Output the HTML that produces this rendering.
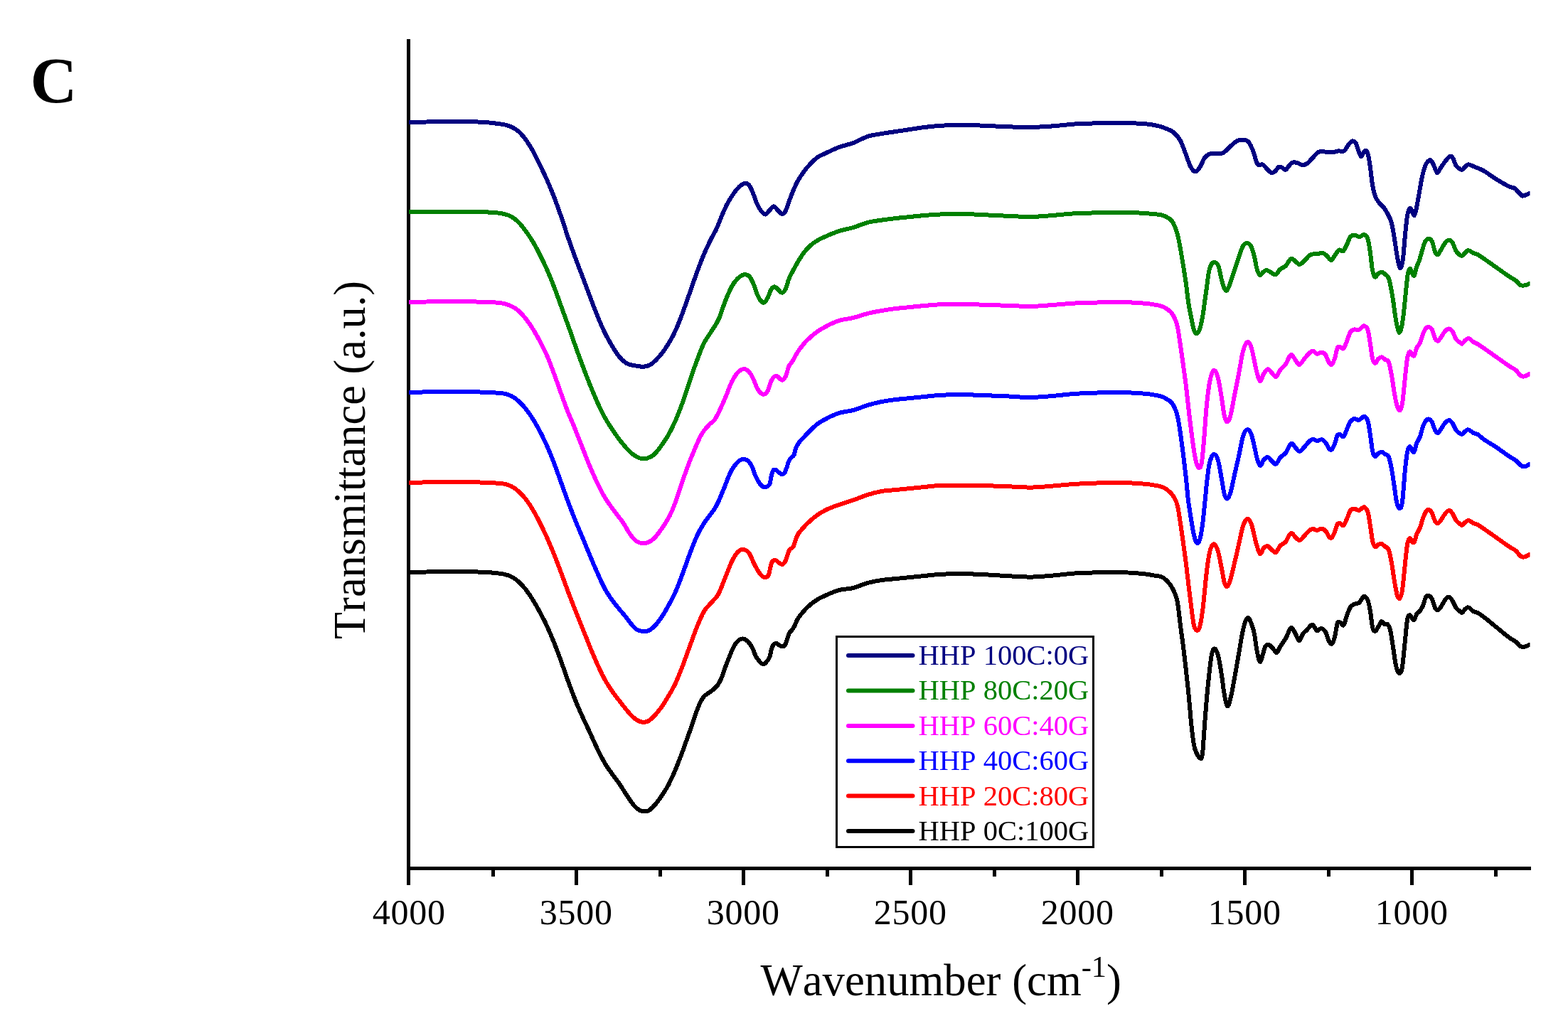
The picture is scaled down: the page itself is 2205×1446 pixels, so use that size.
<!DOCTYPE html>
<html lang="en">
<head>
<meta charset="utf-8">
<title>Transmittance (a.u.) vs Wavenumber (cm-1)</title>
<style>
html,body{margin:0;padding:0;background:#fff;}
body{width:2205px;height:1446px;overflow:hidden;}
svg{display:block;}
text{font-family:"Liberation Serif","Times New Roman",Times,serif;font-kerning:none;}
.crv{fill:none;stroke-linejoin:round;stroke-linecap:butt;shape-rendering:crispEdges;}
</style>
</head>
<body>
<svg role="img" aria-label="Transmittance (a.u.) versus Wavenumber (cm-1)" width="2205" height="1446" viewBox="0 0 2205 1446">
<rect x="0" y="0" width="2205" height="1446" fill="#ffffff"/>
<g fill="#000000" shape-rendering="crispEdges">
<rect x="572" y="55" width="5" height="1169"/>
<rect x="572" y="1219" width="1581" height="5"/>
<rect x="572" y="1219" width="5" height="26"/>
<rect x="691" y="1219" width="5" height="14"/>
<rect x="808" y="1219" width="5" height="26"/>
<rect x="926" y="1219" width="5" height="14"/>
<rect x="1043" y="1219" width="5" height="26"/>
<rect x="1161" y="1219" width="5" height="14"/>
<rect x="1278" y="1219" width="5" height="26"/>
<rect x="1396" y="1219" width="5" height="14"/>
<rect x="1513" y="1219" width="5" height="26"/>
<rect x="1631" y="1219" width="5" height="14"/>
<rect x="1748" y="1219" width="5" height="26"/>
<rect x="1866" y="1219" width="5" height="14"/>
<rect x="1983" y="1219" width="5" height="26"/>
<rect x="2101" y="1219" width="5" height="14"/>
</g>
<defs><clipPath id="plotclip"><rect x="575" y="57" width="1576.5" height="1162"/></clipPath></defs>
<g class="crv" stroke-width="6.00" clip-path="url(#plotclip)">
<path stroke="#000000" d="M571.0,805.0C572.3,805.0 573.7,805.0 575.0,805.0C583.3,805.0 591.7,804.6 600.0,804.5C606.7,804.4 613.3,804.3 620.0,804.3C626.7,804.3 633.3,804.3 640.0,804.3C646.7,804.3 653.3,804.3 660.0,804.4C665.0,804.4 670.0,804.4 675.0,804.6C679.3,804.7 683.7,804.9 688.0,805.2C692.0,805.5 696.0,805.9 700.0,806.4C703.3,806.8 706.7,807.0 710.0,807.9C713.3,808.8 716.7,809.8 720.0,811.6C723.3,813.4 726.6,815.7 729.9,818.7C733.2,821.8 736.6,825.6 739.9,829.9C743.2,834.3 746.6,839.4 749.9,844.8C753.2,850.2 756.6,856.2 759.9,862.4C762.9,868.0 765.9,873.7 768.9,880.1C772.5,887.8 776.2,896.5 779.8,905.6C783.1,914.0 786.5,923.0 789.8,932.2C793.1,941.3 796.5,951.5 799.8,960.6C803.1,969.7 806.5,978.6 809.8,986.8C813.1,995.0 816.5,1002.4 819.8,1009.7C822.2,1014.9 824.5,1019.6 826.9,1024.7C831.2,1033.9 835.6,1044.1 839.9,1053.0C843.2,1059.8 846.6,1066.7 849.9,1072.4C853.2,1078.2 856.6,1082.7 859.9,1087.4C863.2,1092.2 866.6,1096.0 869.9,1100.8C873.2,1105.6 876.5,1111.1 879.8,1116.1C883.1,1121.1 886.5,1126.9 889.8,1130.8C893.1,1134.8 896.5,1138.2 899.8,1139.9C901.8,1140.9 903.8,1141.4 905.8,1141.5C908.1,1141.6 910.5,1141.2 912.8,1139.8C915.1,1138.4 917.5,1135.9 919.8,1133.4C923.1,1129.9 926.4,1125.4 929.7,1120.6C933.0,1115.7 936.4,1110.7 939.7,1104.5C943.0,1098.2 946.4,1090.9 949.7,1083.0C953.0,1075.1 956.4,1066.2 959.7,1057.3C963.0,1048.4 966.4,1038.6 969.7,1029.5C970.4,1027.5 971.2,1025.6 971.9,1023.5C974.6,1016.1 977.2,1006.8 979.9,999.8C981.6,995.4 983.2,991.1 984.9,987.8C986.6,984.5 988.2,981.8 989.9,979.8C991.6,977.8 993.2,977.0 994.9,975.8C996.6,974.5 998.2,973.5 999.9,972.3C1001.6,971.0 1003.2,969.9 1004.9,968.3C1006.6,966.7 1008.2,965.4 1009.9,962.8C1011.6,960.2 1013.2,956.9 1014.9,952.9C1016.5,948.9 1018.2,943.4 1019.8,938.9C1021.5,934.4 1023.1,930.1 1024.8,925.9C1026.5,921.7 1028.1,917.4 1029.8,913.9C1031.5,910.4 1033.1,907.3 1034.8,905.0C1036.5,902.7 1038.1,901.1 1039.8,900.0C1041.6,898.8 1043.5,898.3 1045.3,898.5C1047.5,898.8 1049.6,900.3 1051.8,902.5C1053.8,904.5 1055.8,907.0 1057.8,910.9C1059.5,914.1 1061.1,919.7 1062.8,922.9C1064.4,926.0 1066.1,928.1 1067.7,929.9C1069.7,932.1 1071.7,934.7 1073.7,934.4C1075.4,934.1 1077.0,932.2 1078.7,929.9C1080.0,928.1 1081.4,927.4 1082.7,922.9C1083.5,920.1 1084.4,914.6 1085.2,911.9C1086.0,909.2 1086.9,908.1 1087.7,906.9C1089.0,905.0 1090.4,904.9 1091.7,905.0C1093.0,905.1 1094.4,906.7 1095.7,907.4C1097.0,908.1 1098.4,909.3 1099.7,909.4C1101.0,909.5 1102.4,910.1 1103.7,907.9C1104.7,906.2 1105.7,902.8 1106.7,900.0C1107.7,897.2 1108.7,893.2 1109.7,891.0C1111.0,888.0 1112.4,887.9 1113.7,886.0C1115.0,884.2 1116.3,882.8 1117.6,880.0C1118.4,878.3 1119.2,875.8 1120.0,874.0C1123.3,866.4 1126.7,864.0 1130.0,860.0C1133.3,856.0 1136.7,852.8 1140.0,850.0C1143.3,847.2 1146.7,845.0 1150.0,843.0C1153.3,841.0 1156.7,839.6 1160.0,838.0C1166.7,834.9 1173.3,831.8 1180.0,830.0C1186.7,828.2 1193.3,828.7 1200.0,827.0C1206.7,825.3 1213.3,821.8 1220.0,820.0C1226.7,818.2 1233.3,817.0 1240.0,816.0C1246.7,815.0 1253.3,814.7 1260.0,814.0C1266.7,813.3 1273.3,812.7 1280.0,812.0C1286.7,811.3 1293.3,810.7 1300.0,810.0C1306.7,809.3 1313.3,808.5 1320.0,808.0C1330.0,807.3 1340.0,807.0 1350.0,807.0C1360.0,807.0 1370.0,807.6 1380.0,808.0C1393.7,808.6 1407.3,809.7 1421.0,810.4C1430.7,810.9 1440.3,811.7 1450.0,811.6C1460.0,811.5 1470.0,810.4 1480.0,809.6C1490.0,808.8 1500.0,807.3 1510.0,806.6C1520.0,805.9 1530.0,805.7 1540.0,805.4C1550.0,805.1 1560.0,804.8 1570.0,805.0C1580.0,805.2 1590.0,805.4 1600.0,806.4C1606.7,807.0 1613.3,807.4 1620.0,809.0C1626.7,810.6 1633.3,809.0 1640.0,816.0C1643.3,819.5 1646.7,822.0 1650.0,830.0C1652.0,834.8 1654.0,836.0 1656.0,848.0C1657.3,856.0 1658.7,869.7 1660.0,880.0C1661.3,890.3 1662.7,899.3 1664.0,910.0C1665.3,920.7 1666.7,932.0 1668.0,944.0C1669.3,956.0 1670.7,967.9 1672.0,982.0C1673.0,992.5 1674.0,1006.1 1675.0,1016.0C1676.3,1029.2 1677.7,1040.7 1679.0,1048.0C1680.3,1055.3 1681.7,1057.0 1683.0,1060.0C1684.3,1063.0 1685.7,1066.0 1687.0,1066.0C1688.3,1066.0 1689.7,1071.0 1691.0,1060.0C1692.0,1051.7 1693.0,1033.0 1694.0,1020.0C1695.0,1007.0 1696.0,993.3 1697.0,982.0C1698.0,970.7 1699.0,961.1 1700.0,952.0C1701.3,939.8 1702.7,926.6 1704.0,920.0C1705.3,913.4 1706.7,912.7 1708.0,912.4C1709.7,912.1 1711.3,915.7 1713.0,922.0C1714.7,928.3 1716.3,938.9 1718.0,950.0C1719.0,956.7 1720.0,965.8 1721.0,972.0C1722.5,981.6 1724.1,990.9 1725.6,993.0C1727.4,995.4 1729.2,986.9 1731.0,980.0C1732.7,973.6 1734.3,963.0 1736.0,954.0C1738.0,943.2 1740.0,931.3 1742.0,920.0C1744.0,908.7 1746.0,894.3 1748.0,886.0C1750.3,876.3 1752.7,868.9 1755.0,869.0C1756.7,869.1 1758.3,873.4 1760.0,878.0C1761.3,881.7 1762.7,884.9 1764.0,892.0C1765.0,897.3 1766.0,906.4 1767.0,912.0C1768.7,921.3 1770.3,930.7 1772.0,931.0C1773.3,931.2 1774.7,924.1 1776.0,920.0C1777.0,916.9 1778.0,912.3 1779.0,910.0C1780.7,906.2 1782.3,906.9 1784.0,907.0C1786.0,907.1 1788.0,910.1 1790.0,912.0C1791.9,913.8 1793.7,919.0 1795.6,918.0C1797.1,917.2 1798.5,912.5 1800.0,910.0C1802.7,905.5 1805.3,902.4 1808.0,898.0C1810.8,893.4 1813.6,882.3 1816.4,883.0C1818.3,883.5 1820.1,888.8 1822.0,892.0C1823.7,894.8 1825.3,901.0 1827.0,901.0C1828.7,901.0 1830.3,894.4 1832.0,892.0C1834.0,889.1 1836.0,888.0 1838.0,886.0C1840.5,883.5 1843.1,877.9 1845.6,878.6C1847.7,879.2 1849.9,886.2 1852.0,887.0C1854.0,887.8 1856.0,883.7 1858.0,884.0C1860.0,884.3 1862.0,885.4 1864.0,889.0C1865.7,892.0 1867.3,899.1 1869.0,902.0C1870.2,904.1 1871.4,906.5 1872.6,906.0C1874.1,905.4 1875.5,901.4 1877.0,896.0C1878.3,891.1 1879.7,879.1 1881.0,876.0C1882.0,873.7 1883.0,875.0 1884.0,875.0C1885.9,875.1 1887.7,881.5 1889.6,879.0C1891.1,877.0 1892.5,870.0 1894.0,866.0C1895.7,861.5 1897.3,856.7 1899.0,854.0C1900.7,851.3 1902.3,851.0 1904.0,850.0C1906.3,848.6 1908.7,849.6 1911.0,848.0C1913.7,846.2 1916.3,837.9 1919.0,839.0C1920.7,839.7 1922.3,840.3 1924.0,846.0C1925.0,849.4 1926.0,854.0 1927.0,860.0C1928.0,866.0 1929.0,877.2 1930.0,882.0C1931.2,887.7 1932.4,887.6 1933.6,888.0C1935.1,888.4 1936.5,884.2 1938.0,882.0C1939.7,879.5 1941.3,874.3 1943.0,874.0C1944.3,873.8 1945.7,877.3 1947.0,878.0C1948.3,878.7 1949.7,876.7 1951.0,878.0C1952.3,879.3 1953.7,880.7 1955.0,886.0C1956.3,891.3 1957.7,901.7 1959.0,910.0C1960.3,918.3 1961.7,929.9 1963.0,936.0C1964.5,943.0 1966.1,946.8 1967.6,947.0C1969.1,947.2 1970.5,946.7 1972.0,938.0C1973.3,930.1 1974.7,912.5 1976.0,900.0C1977.0,890.6 1978.0,878.0 1979.0,872.0C1980.2,864.8 1981.4,865.2 1982.6,865.0C1983.7,864.8 1984.9,868.8 1986.0,870.0C1986.9,870.9 1987.7,872.5 1988.6,872.0C1989.7,871.3 1990.9,866.0 1992.0,864.0C1993.7,861.0 1995.3,861.4 1997.0,859.0C1998.3,857.1 1999.7,855.2 2001.0,852.0C2002.3,848.8 2003.7,842.4 2005.0,840.0C2006.5,837.2 2008.1,837.4 2009.6,838.0C2011.1,838.5 2012.5,839.9 2014.0,843.0C2015.3,845.8 2016.7,852.5 2018.0,855.0C2019.3,857.5 2020.7,858.2 2022.0,858.0C2023.3,857.8 2024.7,855.7 2026.0,854.0C2028.0,851.5 2030.0,846.5 2032.0,844.0C2033.7,841.9 2035.3,839.6 2037.0,839.6C2039.0,839.6 2041.0,842.7 2043.0,846.0C2044.3,848.2 2045.7,851.9 2047.0,854.0C2048.7,856.6 2050.3,857.6 2052.0,859.0C2053.3,860.1 2054.7,862.3 2056.0,862.0C2057.3,861.7 2058.7,858.3 2060.0,857.0C2061.3,855.7 2062.7,854.7 2064.0,854.4C2066.7,853.9 2069.3,858.7 2072.0,860.0C2074.0,861.0 2076.0,861.0 2078.0,862.0C2080.0,863.0 2082.0,864.6 2084.0,866.0C2090.7,870.6 2097.3,876.7 2104.0,882.0C2110.7,887.3 2117.3,893.5 2124.0,898.0C2126.7,899.8 2129.3,900.8 2132.0,903.0C2134.0,904.7 2136.0,907.9 2138.0,909.0C2139.3,909.7 2140.7,909.9 2142.0,910.0C2145.0,910.2 2148.0,908.0 2151.0,907.0C2152.7,906.4 2154.3,905.9 2156.0,905.3"/>
<path stroke="#ff0000" d="M571.0,678.9C572.3,678.9 573.7,678.9 575.0,678.9C583.3,678.9 591.7,678.5 600.0,678.4C606.7,678.3 613.3,678.2 620.0,678.2C626.7,678.2 633.3,678.2 640.0,678.2C646.7,678.2 653.3,678.2 660.0,678.3C665.0,678.3 670.0,678.4 675.0,678.5C679.3,678.6 683.7,678.7 688.0,678.9C692.0,679.1 696.0,679.4 700.0,679.8C703.3,680.1 706.7,680.0 710.0,680.8C713.3,681.6 716.7,682.7 720.0,684.5C723.3,686.3 726.6,688.7 729.9,691.7C733.2,694.8 736.6,698.4 739.9,702.8C743.2,707.2 746.6,712.3 749.9,718.0C753.1,723.4 756.2,729.5 759.4,735.7C762.9,742.7 766.4,750.0 769.9,757.9C773.2,765.3 776.5,773.1 779.8,781.4C783.1,789.7 786.5,798.7 789.8,807.6C793.1,816.5 796.5,826.0 799.8,834.8C803.1,843.6 806.5,852.1 809.8,860.5C812.5,867.3 815.1,873.8 817.8,880.5C820.1,886.3 822.5,891.9 824.8,897.8C826.4,901.9 828.1,906.3 829.7,910.3C833.0,918.6 836.4,926.2 839.7,933.6C843.0,941.0 846.4,948.3 849.7,954.5C853.0,960.6 856.4,965.6 859.7,970.5C863.0,975.5 866.4,979.7 869.7,984.1C873.0,988.4 876.3,992.7 879.6,996.7C882.9,1000.7 886.3,1005.2 889.6,1008.2C892.9,1011.3 896.3,1013.6 899.6,1014.8C901.6,1015.5 903.6,1015.9 905.6,1015.8C907.6,1015.7 909.6,1015.3 911.6,1014.3C914.4,1012.9 917.2,1010.0 920.0,1007.1C923.3,1003.7 926.7,999.6 930.0,994.9C933.3,990.3 936.7,984.8 940.0,979.2C943.3,973.5 946.7,968.0 950.0,960.9C953.3,953.7 956.7,945.1 960.0,936.5C963.3,927.8 966.7,918.1 970.0,909.0C973.3,900.0 976.7,890.2 980.0,882.0C983.3,873.8 986.7,865.7 990.0,860.0C993.3,854.3 996.7,852.0 1000.0,848.0C1003.3,844.0 1006.7,842.0 1010.0,836.0C1013.3,830.0 1016.7,820.0 1020.0,812.0C1023.3,804.0 1026.7,794.3 1030.0,788.0C1032.7,782.9 1035.3,778.5 1038.0,776.0C1040.7,773.5 1043.3,772.5 1046.0,773.0C1048.7,773.5 1051.3,774.8 1054.0,779.0C1056.0,782.1 1058.0,788.0 1060.0,792.0C1062.7,797.3 1065.3,802.6 1068.0,806.0C1070.3,809.0 1072.7,811.9 1075.0,812.0C1077.0,812.1 1079.0,813.3 1081.0,808.0C1082.3,804.4 1083.7,795.4 1085.0,792.0C1086.7,787.7 1088.3,788.2 1090.0,788.0C1092.0,787.7 1094.0,790.9 1096.0,792.0C1097.3,792.8 1098.7,794.3 1100.0,794.0C1101.3,793.7 1102.7,792.2 1104.0,790.0C1106.0,786.7 1108.0,777.7 1110.0,774.0C1112.0,770.3 1114.0,772.4 1116.0,768.0C1117.3,765.1 1118.7,759.4 1120.0,756.0C1123.3,747.5 1126.7,746.0 1130.0,742.0C1133.3,738.0 1136.7,735.0 1140.0,732.0C1143.3,729.0 1146.7,726.3 1150.0,724.0C1153.3,721.7 1156.7,719.8 1160.0,718.0C1166.7,714.4 1173.3,712.4 1180.0,710.0C1186.7,707.6 1193.3,705.8 1200.0,703.5C1206.7,701.2 1213.3,698.1 1220.0,696.0C1226.7,693.9 1233.3,692.2 1240.0,691.0C1246.7,689.8 1253.3,689.7 1260.0,689.0C1266.7,688.3 1273.3,687.7 1280.0,687.0C1286.7,686.3 1293.3,685.7 1300.0,685.0C1306.7,684.3 1313.3,683.4 1320.0,683.0C1330.0,682.3 1340.0,682.6 1350.0,682.6C1360.0,682.6 1370.0,682.8 1380.0,683.0C1393.7,683.3 1407.3,683.9 1421.0,684.4C1430.7,684.8 1440.3,685.7 1450.0,685.6C1460.0,685.5 1470.0,684.4 1480.0,683.6C1490.0,682.8 1500.0,681.7 1510.0,681.0C1520.0,680.3 1530.0,680.0 1540.0,679.6C1550.0,679.2 1560.0,678.5 1570.0,678.6C1580.0,678.7 1590.0,679.2 1600.0,680.0C1606.7,680.5 1613.3,680.7 1620.0,682.0C1626.7,683.3 1633.3,682.9 1640.0,688.0C1643.3,690.6 1646.7,691.9 1650.0,698.0C1652.0,701.7 1654.0,702.9 1656.0,712.0C1657.3,718.0 1658.7,727.3 1660.0,736.0C1661.3,744.7 1662.7,754.3 1664.0,764.0C1665.3,773.7 1666.7,783.3 1668.0,794.0C1669.3,804.7 1670.7,817.0 1672.0,828.0C1673.3,839.0 1674.7,850.3 1676.0,860.0C1677.0,867.2 1678.0,875.7 1679.0,880.0C1680.0,884.3 1681.0,885.1 1682.0,886.0C1684.0,887.8 1686.0,886.9 1688.0,878.0C1689.3,872.1 1690.7,863.0 1692.0,852.0C1693.3,841.0 1694.7,823.7 1696.0,812.0C1697.3,800.3 1698.7,789.3 1700.0,782.0C1701.3,774.7 1702.7,770.7 1704.0,768.0C1705.2,765.6 1706.4,765.2 1707.6,765.6C1709.4,766.3 1711.2,769.8 1713.0,776.0C1714.7,781.7 1716.3,791.8 1718.0,800.0C1719.3,806.5 1720.7,815.9 1722.0,820.0C1723.2,823.7 1724.4,825.2 1725.6,825.0C1727.1,824.8 1728.5,820.2 1730.0,816.0C1732.0,810.3 1734.0,800.3 1736.0,792.0C1738.0,783.7 1740.0,774.7 1742.0,766.0C1744.0,757.3 1746.0,746.0 1748.0,740.0C1750.3,733.0 1752.7,729.2 1755.0,730.0C1756.7,730.6 1758.3,733.1 1760.0,738.0C1761.3,741.9 1762.7,748.7 1764.0,754.0C1765.0,758.0 1766.0,762.5 1767.0,766.0C1768.7,771.8 1770.3,778.2 1772.0,779.0C1773.7,779.8 1775.3,772.8 1777.0,771.0C1778.7,769.2 1780.3,768.0 1782.0,768.0C1784.3,768.0 1786.7,772.4 1789.0,774.0C1790.7,775.2 1792.3,777.6 1794.0,777.0C1796.0,776.3 1798.0,770.4 1800.0,768.0C1802.7,764.9 1805.3,765.1 1808.0,762.0C1810.7,758.9 1813.3,749.7 1816.0,749.6C1818.0,749.5 1820.0,754.2 1822.0,756.0C1823.7,757.5 1825.3,759.8 1827.0,760.0C1829.3,760.3 1831.7,756.2 1834.0,754.0C1836.7,751.5 1839.3,747.2 1842.0,745.6C1843.3,744.8 1844.7,744.1 1846.0,744.0C1848.0,743.8 1850.0,746.0 1852.0,746.0C1854.3,746.0 1856.7,743.0 1859.0,743.6C1861.0,744.1 1863.0,745.3 1865.0,748.0C1866.3,749.8 1867.7,753.5 1869.0,755.0C1870.0,756.1 1871.0,757.3 1872.0,757.0C1873.7,756.6 1875.3,751.9 1877.0,748.0C1878.3,744.9 1879.7,738.8 1881.0,737.0C1882.0,735.6 1883.0,736.0 1884.0,736.0C1885.9,735.9 1887.7,740.7 1889.6,739.0C1891.1,737.7 1892.5,733.2 1894.0,730.0C1895.7,726.3 1897.3,720.4 1899.0,718.0C1900.7,715.6 1902.3,715.8 1904.0,715.6C1906.3,715.3 1908.7,718.0 1911.0,718.0C1913.9,717.9 1916.7,711.0 1919.6,714.0C1921.1,715.5 1922.5,715.7 1924.0,722.0C1925.0,726.3 1926.0,733.7 1927.0,740.0C1928.0,746.3 1929.0,755.2 1930.0,760.0C1931.2,765.7 1932.4,767.7 1933.6,769.0C1935.1,770.6 1936.5,766.7 1938.0,766.0C1939.7,765.2 1941.3,764.5 1943.0,765.0C1944.7,765.5 1946.3,767.5 1948.0,769.0C1949.7,770.5 1951.3,769.1 1953.0,774.0C1954.3,777.9 1955.7,784.7 1957.0,792.0C1958.3,799.3 1959.7,810.3 1961.0,818.0C1962.3,825.7 1963.7,834.1 1965.0,838.0C1966.0,840.9 1967.0,842.5 1968.0,842.0C1969.3,841.3 1970.7,838.3 1972.0,830.0C1973.3,821.7 1974.7,804.0 1976.0,792.0C1977.0,783.0 1978.0,771.9 1979.0,766.0C1980.2,759.0 1981.4,757.5 1982.6,757.0C1983.7,756.5 1984.9,761.0 1986.0,762.0C1986.9,762.7 1987.7,764.0 1988.6,763.0C1989.7,761.7 1990.9,755.1 1992.0,752.0C1993.7,747.4 1995.3,746.5 1997.0,742.0C1998.3,738.4 1999.7,732.7 2001.0,729.0C2002.3,725.3 2003.7,722.0 2005.0,720.0C2006.5,717.7 2008.1,716.6 2009.6,717.0C2011.1,717.4 2012.5,719.1 2014.0,722.0C2015.3,724.6 2016.7,730.7 2018.0,733.0C2019.3,735.3 2020.7,736.2 2022.0,736.0C2023.3,735.8 2024.7,733.6 2026.0,732.0C2028.0,729.6 2030.0,725.3 2032.0,723.0C2034.1,720.5 2036.3,717.3 2038.4,718.0C2039.9,718.5 2041.5,720.6 2043.0,723.0C2044.3,725.1 2045.7,728.9 2047.0,731.0C2048.7,733.6 2050.3,734.6 2052.0,736.0C2053.3,737.1 2054.7,739.2 2056.0,739.0C2057.3,738.8 2058.7,736.1 2060.0,735.0C2061.5,733.7 2063.1,732.3 2064.6,732.0C2067.1,731.5 2069.5,734.9 2072.0,736.0C2074.0,736.9 2076.0,737.0 2078.0,738.0C2080.0,739.0 2082.0,740.7 2084.0,742.0C2090.7,746.5 2097.3,751.3 2104.0,756.0C2110.7,760.7 2117.3,765.7 2124.0,770.0C2126.7,771.7 2129.3,772.5 2132.0,775.0C2134.0,776.9 2136.0,780.6 2138.0,782.0C2139.3,782.9 2140.7,783.4 2142.0,783.6C2145.0,784.1 2148.0,781.2 2151.0,780.0C2152.7,779.3 2154.3,778.7 2156.0,778.0"/>
<path stroke="#0000ff" d="M571.0,551.9C572.3,551.9 573.7,551.9 575.0,551.9C583.3,551.9 591.7,551.5 600.0,551.4C606.7,551.3 613.3,551.2 620.0,551.2C626.7,551.2 633.3,551.2 640.0,551.2C646.7,551.2 653.3,551.2 660.0,551.3C665.0,551.3 670.0,551.4 675.0,551.5C679.3,551.6 683.7,551.7 688.0,551.9C692.0,552.1 696.0,552.4 700.0,552.8C703.3,553.1 706.7,553.0 710.0,553.8C713.3,554.6 716.7,555.7 720.0,557.5C723.3,559.3 726.6,561.7 729.9,564.7C733.2,567.8 736.6,571.5 739.9,575.8C743.6,580.5 747.2,585.9 750.9,591.9C753.9,596.8 756.9,602.2 759.9,608.0C763.2,614.5 766.6,621.3 769.9,628.9C773.2,636.4 776.5,644.6 779.8,653.2C783.1,661.9 786.5,671.7 789.8,680.8C793.1,690.0 796.5,699.4 799.8,708.3C803.5,718.0 807.1,727.4 810.8,736.4C813.8,743.7 816.8,750.5 819.8,757.7C823.1,765.6 826.4,773.9 829.7,781.8C833.0,789.7 836.4,797.6 839.7,805.0C843.0,812.5 846.4,820.2 849.7,826.5C853.0,832.8 856.4,837.9 859.7,842.7C863.0,847.5 866.4,851.3 869.7,855.4C873.0,859.5 876.3,863.2 879.6,867.2C882.6,871.0 885.6,875.4 888.6,878.8C890.6,881.1 892.6,883.6 894.6,885.1C896.3,886.2 897.9,886.7 899.6,887.2C901.6,887.8 903.6,888.1 905.6,888.1C907.6,888.1 909.6,888.0 911.6,887.2C914.4,886.2 917.2,883.8 920.0,881.1C923.3,877.9 926.7,873.5 930.0,868.6C933.3,863.8 936.7,857.9 940.0,851.8C943.3,845.8 946.7,839.7 950.0,832.2C953.3,824.7 956.7,815.7 960.0,806.8C963.3,797.9 966.7,787.8 970.0,779.0C973.3,770.2 976.7,761.2 980.0,754.0C983.3,746.8 986.7,741.2 990.0,736.0C992.9,731.4 995.9,728.0 998.8,724.0C1000.8,721.2 1002.8,718.9 1004.8,715.7C1006.5,713.0 1008.1,710.2 1009.8,706.7C1011.5,703.2 1013.1,698.8 1014.8,694.8C1016.5,690.8 1018.1,687.0 1019.8,682.8C1021.5,678.6 1023.1,673.6 1024.8,669.8C1026.5,666.0 1028.1,662.6 1029.8,659.8C1031.5,657.0 1033.1,654.9 1034.8,652.9C1036.5,650.9 1038.1,649.1 1039.8,647.9C1041.9,646.4 1044.1,645.7 1046.2,645.9C1048.4,646.1 1050.5,646.5 1052.7,648.9C1054.4,650.7 1056.0,653.1 1057.7,656.8C1059.0,659.8 1060.4,664.6 1061.7,667.8C1063.0,671.0 1064.4,673.5 1065.7,675.8C1067.0,678.1 1068.4,680.3 1069.7,681.8C1071.4,683.7 1073.0,685.0 1074.7,685.3C1076.4,685.6 1078.0,685.4 1079.7,683.8C1080.7,682.9 1081.7,683.3 1082.7,679.8C1083.4,677.4 1084.0,672.6 1084.7,669.8C1085.4,667.0 1086.0,664.5 1086.7,662.8C1088.0,659.5 1089.4,660.7 1090.7,660.8C1092.3,660.9 1094.0,663.7 1095.6,664.8C1097.1,665.8 1098.6,667.5 1100.1,667.3C1101.3,667.1 1102.4,666.9 1103.6,664.8C1104.6,663.0 1105.6,659.6 1106.6,656.8C1107.6,654.0 1108.6,650.1 1109.6,647.9C1110.9,644.9 1112.3,644.4 1113.6,642.9C1114.6,641.8 1115.6,642.7 1116.6,639.9C1117.3,638.0 1117.9,634.1 1118.6,631.9C1119.9,627.5 1121.3,626.2 1122.6,623.9C1124.9,620.0 1127.3,618.5 1129.6,615.9C1133.1,612.1 1136.5,608.4 1140.0,605.0C1143.3,601.8 1146.7,598.5 1150.0,596.0C1153.3,593.5 1156.7,591.8 1160.0,590.0C1166.7,586.3 1173.3,583.2 1180.0,581.0C1186.7,578.8 1193.3,578.8 1200.0,577.0C1206.7,575.2 1213.3,572.0 1220.0,570.0C1226.7,568.0 1233.3,566.3 1240.0,565.0C1246.7,563.7 1253.3,562.8 1260.0,562.0C1266.7,561.2 1273.3,560.7 1280.0,560.0C1286.7,559.3 1293.3,558.7 1300.0,558.0C1306.7,557.3 1313.3,556.5 1320.0,556.0C1330.0,555.3 1340.0,555.0 1350.0,555.0C1360.0,555.0 1370.0,555.6 1380.0,556.0C1393.7,556.5 1407.3,556.9 1421.0,557.6C1428.7,558.0 1436.3,558.9 1444.0,559.0C1456.0,559.2 1468.0,558.0 1480.0,557.0C1490.0,556.2 1500.0,554.7 1510.0,554.0C1520.0,553.3 1530.0,552.9 1540.0,552.6C1550.0,552.3 1560.0,551.9 1570.0,552.0C1580.0,552.1 1590.0,552.3 1600.0,553.0C1606.7,553.5 1613.3,553.7 1620.0,555.0C1626.7,556.3 1633.3,556.3 1640.0,561.0C1643.3,563.3 1646.7,563.3 1650.0,570.0C1652.0,574.0 1654.0,576.7 1656.0,586.0C1657.3,592.2 1658.7,601.0 1660.0,610.0C1661.3,619.0 1662.7,629.3 1664.0,640.0C1665.3,650.7 1666.7,661.5 1668.0,674.0C1669.0,683.4 1670.0,695.7 1671.0,704.0C1672.0,712.3 1673.0,717.6 1674.0,724.0C1675.3,732.5 1676.7,741.7 1678.0,748.0C1679.3,754.3 1680.7,759.7 1682.0,762.0C1684.0,765.4 1686.0,764.6 1688.0,756.0C1689.3,750.3 1690.7,741.3 1692.0,730.0C1693.0,721.5 1694.0,710.0 1695.0,700.0C1695.7,693.3 1696.3,686.1 1697.0,680.0C1698.0,670.8 1699.0,662.1 1700.0,656.0C1701.3,647.9 1702.7,644.8 1704.0,642.0C1705.2,639.5 1706.4,638.8 1707.6,639.0C1709.4,639.3 1711.2,641.7 1713.0,648.0C1714.7,653.8 1716.3,665.1 1718.0,674.0C1719.3,681.2 1720.7,691.4 1722.0,696.0C1723.2,700.1 1724.4,701.5 1725.6,701.6C1727.1,701.7 1728.5,698.2 1730.0,694.0C1732.0,688.3 1734.0,676.7 1736.0,668.0C1738.0,659.3 1740.0,651.0 1742.0,642.0C1744.0,633.0 1746.0,620.3 1748.0,614.0C1750.1,607.2 1752.3,603.9 1754.4,604.0C1756.3,604.1 1758.1,606.5 1760.0,612.0C1761.3,615.9 1762.7,622.2 1764.0,628.0C1765.0,632.4 1766.0,638.1 1767.0,642.0C1768.7,648.5 1770.3,654.2 1772.0,655.0C1773.7,655.8 1775.3,649.0 1777.0,647.0C1778.7,645.0 1780.3,643.2 1782.0,643.0C1784.3,642.7 1786.7,647.1 1789.0,649.0C1790.7,650.4 1792.3,653.4 1794.0,653.0C1796.0,652.5 1798.0,646.5 1800.0,644.0C1802.7,640.7 1805.3,640.4 1808.0,637.0C1810.7,633.6 1813.3,623.9 1816.0,623.6C1818.0,623.4 1820.0,627.9 1822.0,630.0C1823.7,631.7 1825.3,634.6 1827.0,635.0C1829.3,635.5 1831.7,631.3 1834.0,629.0C1836.7,626.4 1839.3,621.9 1842.0,620.0C1843.3,619.1 1844.7,618.2 1846.0,618.0C1848.0,617.7 1850.0,619.8 1852.0,620.0C1854.7,620.3 1857.3,617.0 1860.0,618.6C1861.7,619.6 1863.3,621.6 1865.0,624.0C1866.3,625.9 1867.7,629.5 1869.0,631.0C1870.0,632.1 1871.0,633.3 1872.0,633.0C1873.7,632.6 1875.3,628.1 1877.0,624.0C1878.3,620.7 1879.7,614.0 1881.0,612.0C1882.0,610.5 1883.0,611.0 1884.0,611.0C1885.9,610.9 1887.7,615.9 1889.6,614.0C1891.1,612.5 1892.5,607.3 1894.0,604.0C1895.7,600.3 1897.3,595.5 1899.0,593.0C1900.7,590.5 1902.3,589.6 1904.0,589.0C1906.3,588.2 1908.7,591.2 1911.0,591.0C1913.9,590.8 1916.7,583.6 1919.6,586.4C1921.1,587.8 1922.5,587.7 1924.0,594.0C1925.0,598.3 1926.0,605.3 1927.0,612.0C1928.0,618.7 1929.0,629.0 1930.0,634.0C1931.2,640.0 1932.4,641.0 1933.6,642.0C1935.1,643.2 1936.5,639.0 1938.0,638.0C1939.7,636.8 1941.3,635.4 1943.0,635.6C1944.7,635.8 1946.3,637.8 1948.0,639.0C1949.7,640.2 1951.3,638.5 1953.0,643.0C1954.3,646.6 1955.7,652.8 1957.0,660.0C1958.3,667.2 1959.7,677.2 1961.0,686.0C1962.0,692.6 1963.0,701.2 1964.0,706.0C1965.3,712.4 1966.7,715.0 1968.0,715.0C1969.3,715.0 1970.7,715.2 1972.0,706.0C1973.3,696.8 1974.7,672.7 1976.0,660.0C1977.0,650.5 1978.0,641.4 1979.0,636.0C1980.2,629.6 1981.4,628.2 1982.6,628.0C1983.7,627.8 1984.9,632.7 1986.0,634.0C1986.9,635.0 1987.7,636.6 1988.6,635.6C1989.7,634.3 1990.9,627.2 1992.0,624.0C1993.7,619.3 1995.3,618.7 1997.0,614.0C1998.3,610.2 1999.7,603.7 2001.0,600.0C2002.3,596.3 2003.7,593.7 2005.0,592.0C2006.5,590.0 2008.1,589.2 2009.6,589.6C2011.1,590.0 2012.5,591.2 2014.0,594.0C2015.3,596.6 2016.7,602.5 2018.0,605.0C2019.3,607.5 2020.7,609.2 2022.0,609.0C2023.3,608.8 2024.7,605.8 2026.0,604.0C2028.0,601.3 2030.0,597.2 2032.0,595.0C2033.9,593.0 2035.7,590.8 2037.6,591.0C2039.4,591.2 2041.2,593.2 2043.0,596.0C2044.3,598.1 2045.7,601.9 2047.0,604.0C2048.7,606.6 2050.3,607.8 2052.0,609.0C2053.3,610.0 2054.7,611.3 2056.0,611.0C2057.3,610.7 2058.7,608.1 2060.0,607.0C2061.3,605.9 2062.7,604.7 2064.0,604.4C2066.7,603.8 2069.3,607.8 2072.0,609.0C2074.0,609.9 2076.0,609.8 2078.0,611.0C2080.0,612.2 2082.0,614.4 2084.0,616.0C2090.7,621.3 2097.3,624.5 2104.0,629.0C2110.7,633.5 2117.3,638.7 2124.0,643.0C2126.7,644.7 2129.3,645.8 2132.0,648.0C2134.0,649.7 2136.0,652.5 2138.0,654.0C2139.3,655.0 2140.7,656.0 2142.0,656.4C2145.0,657.3 2148.0,654.1 2151.0,653.0C2152.7,652.4 2154.3,651.7 2156.0,651.1"/>
<path stroke="#ff00ff" d="M571.0,425.0C572.3,425.0 573.7,425.0 575.0,425.0C583.3,425.0 591.7,424.6 600.0,424.5C606.7,424.4 613.3,424.3 620.0,424.3C626.7,424.3 633.3,424.3 640.0,424.3C646.7,424.3 653.3,424.3 660.0,424.4C665.0,424.4 670.0,424.5 675.0,424.6C679.3,424.7 683.7,424.8 688.0,425.0C692.0,425.2 696.0,425.3 700.0,425.8C703.3,426.2 706.7,426.4 710.0,427.3C713.3,428.2 716.7,429.3 720.0,431.1C723.3,432.8 726.6,434.9 729.9,437.8C733.1,440.7 736.2,444.2 739.4,448.3C742.9,452.7 746.4,457.9 749.9,463.6C753.2,469.0 756.6,474.8 759.9,481.2C763.2,487.6 766.6,494.1 769.9,501.9C773.2,509.6 776.5,518.7 779.8,527.6C783.1,536.6 786.5,546.5 789.8,555.7C793.1,564.8 796.5,574.4 799.8,582.4C801.3,586.0 802.8,589.1 804.3,592.7C806.1,597.0 808.0,601.7 809.8,606.3C813.1,614.6 816.5,623.3 819.8,631.7C823.1,640.0 826.4,648.6 829.7,656.5C833.0,664.4 836.4,672.0 839.7,679.0C843.0,686.0 846.4,692.6 849.7,698.3C853.0,704.0 856.4,708.5 859.7,713.2C863.0,718.0 866.4,722.2 869.7,726.6C872.2,729.9 874.6,732.5 877.1,736.4C877.9,737.8 878.8,739.3 879.6,740.7C881.3,743.5 882.9,746.6 884.6,749.2C886.3,751.7 887.9,754.0 889.6,756.0C891.3,757.9 892.9,759.6 894.6,760.9C896.3,762.1 897.9,762.8 899.6,763.4C901.6,764.1 903.6,764.3 905.6,764.2C907.6,764.2 909.6,763.7 911.6,762.8C914.4,761.6 917.2,759.7 920.0,757.0C923.3,753.9 926.7,749.1 930.0,744.4C932.0,741.6 934.0,738.7 936.0,735.5C938.3,731.7 940.7,727.8 943.0,722.8C945.3,718.0 947.6,712.5 949.9,706.2C951.6,701.6 953.2,696.2 954.9,691.2C956.6,686.2 958.2,681.2 959.9,676.4C961.6,671.5 963.2,666.8 964.9,662.2C966.6,657.6 968.2,653.1 969.9,648.9C971.6,644.6 973.2,640.7 974.9,636.7C976.6,632.7 978.2,628.7 979.9,624.9C981.6,621.1 983.2,617.1 984.9,613.9C986.6,610.7 988.2,608.2 989.9,605.9C991.6,603.6 993.2,601.8 994.9,600.0C996.5,598.2 998.2,596.4 999.8,595.0C1001.1,593.8 1002.5,593.5 1003.8,592.0C1005.8,589.7 1007.8,585.5 1009.8,581.7C1013.1,575.4 1016.5,567.5 1019.8,559.8C1023.1,552.2 1026.4,542.1 1029.7,535.8C1033.0,529.4 1036.4,524.6 1039.7,521.9C1041.7,520.3 1043.7,519.2 1045.7,519.1C1048.7,519.0 1051.7,520.6 1054.7,524.8C1056.4,527.1 1058.0,530.3 1059.7,533.8C1061.4,537.3 1063.0,542.6 1064.7,545.8C1066.4,549.0 1068.0,551.3 1069.7,552.8C1071.2,554.1 1072.7,555.1 1074.2,554.8C1076.0,554.5 1077.8,553.2 1079.6,549.8C1081.3,546.6 1082.9,539.2 1084.6,535.8C1086.3,532.4 1087.9,530.2 1089.6,529.3C1090.6,528.8 1091.6,528.6 1092.6,529.0C1093.9,529.5 1095.3,531.8 1096.6,532.8C1097.8,533.6 1098.9,534.8 1100.1,534.6C1101.6,534.3 1103.1,532.8 1104.6,529.8C1106.3,526.5 1107.9,518.5 1109.6,514.9C1111.3,511.2 1112.9,510.6 1114.6,507.9C1116.4,505.0 1118.2,500.9 1120.0,497.9C1123.3,492.3 1126.7,488.0 1130.0,484.0C1133.3,480.0 1136.7,477.0 1140.0,474.0C1143.3,471.0 1146.7,468.3 1150.0,466.0C1153.3,463.7 1156.7,461.8 1160.0,460.0C1166.7,456.3 1173.3,453.2 1180.0,451.0C1186.7,448.8 1193.3,448.7 1200.0,447.0C1206.7,445.3 1213.3,442.7 1220.0,441.0C1226.7,439.3 1233.3,438.2 1240.0,437.0C1246.7,435.8 1253.3,434.8 1260.0,434.0C1266.7,433.2 1273.3,432.7 1280.0,432.0C1286.7,431.3 1293.3,430.6 1300.0,430.0C1306.7,429.4 1313.3,428.8 1320.0,428.4C1330.0,427.9 1340.0,428.0 1350.0,428.0C1360.0,428.0 1370.0,428.3 1380.0,428.6C1393.7,429.0 1407.3,429.5 1421.0,430.0C1430.7,430.3 1440.3,431.1 1450.0,431.0C1460.0,430.8 1470.0,429.7 1480.0,429.0C1490.0,428.3 1500.0,427.2 1510.0,426.6C1520.0,426.0 1530.0,425.9 1540.0,425.6C1552.0,425.3 1564.0,424.8 1576.0,425.0C1584.0,425.1 1592.0,425.4 1600.0,426.0C1606.7,426.5 1613.3,426.7 1620.0,428.0C1626.7,429.3 1633.3,428.9 1640.0,434.0C1643.3,436.6 1646.7,437.2 1650.0,444.0C1652.0,448.1 1654.0,450.1 1656.0,460.0C1657.3,466.6 1658.7,477.0 1660.0,486.0C1661.3,495.0 1662.7,504.3 1664.0,514.0C1665.3,523.7 1666.7,533.0 1668.0,544.0C1669.3,555.0 1670.7,568.7 1672.0,580.0C1673.3,591.3 1674.7,602.0 1676.0,612.0C1677.3,622.0 1678.7,632.7 1680.0,640.0C1681.0,645.5 1682.0,650.0 1683.0,653.0C1684.1,656.4 1685.3,658.4 1686.4,658.0C1687.6,657.6 1688.8,657.8 1690.0,650.0C1691.0,643.5 1692.0,631.7 1693.0,620.0C1694.0,608.3 1695.0,591.5 1696.0,580.0C1697.3,564.7 1698.7,553.0 1700.0,544.0C1701.3,535.0 1702.7,529.8 1704.0,526.0C1705.3,522.2 1706.7,520.6 1708.0,521.0C1709.7,521.5 1711.3,525.5 1713.0,532.0C1714.7,538.5 1716.3,549.8 1718.0,560.0C1719.3,568.1 1720.7,580.4 1722.0,586.0C1723.3,591.6 1724.7,593.6 1726.0,593.6C1727.3,593.6 1728.7,590.2 1730.0,586.0C1732.0,579.7 1734.0,566.0 1736.0,556.0C1738.0,546.0 1740.0,536.3 1742.0,526.0C1744.0,515.7 1746.0,501.5 1748.0,494.0C1750.3,485.3 1752.7,480.4 1755.0,481.0C1756.7,481.5 1758.3,484.5 1760.0,490.0C1761.3,494.4 1762.7,501.9 1764.0,508.0C1765.0,512.6 1766.0,518.0 1767.0,522.0C1768.7,528.6 1770.3,535.3 1772.0,536.0C1773.7,536.7 1775.3,528.7 1777.0,526.0C1779.0,522.8 1781.0,519.6 1783.0,519.4C1785.0,519.2 1787.0,523.1 1789.0,525.0C1790.7,526.6 1792.3,530.2 1794.0,530.0C1796.0,529.7 1798.0,523.7 1800.0,521.0C1802.7,517.4 1805.3,515.7 1808.0,512.0C1810.7,508.3 1813.3,498.8 1816.0,499.0C1818.0,499.1 1820.0,504.5 1822.0,507.0C1823.7,509.1 1825.3,512.6 1827.0,513.0C1829.3,513.5 1831.7,507.6 1834.0,505.0C1836.7,502.0 1839.3,498.1 1842.0,496.0C1843.3,495.0 1844.7,493.7 1846.0,493.6C1848.0,493.5 1850.0,497.7 1852.0,498.0C1854.0,498.3 1856.0,495.4 1858.0,495.6C1860.0,495.8 1862.0,496.1 1864.0,499.0C1865.7,501.4 1867.3,507.7 1869.0,510.0C1870.2,511.7 1871.4,513.6 1872.6,513.0C1874.1,512.3 1875.5,508.3 1877.0,504.0C1878.3,500.1 1879.7,491.4 1881.0,489.0C1882.0,487.2 1883.0,488.1 1884.0,488.0C1885.9,487.8 1887.7,492.1 1889.6,490.0C1891.1,488.4 1892.5,483.6 1894.0,480.0C1895.7,476.0 1897.3,469.7 1899.0,467.0C1900.7,464.3 1902.3,464.2 1904.0,463.6C1906.3,462.7 1908.7,464.7 1911.0,464.0C1913.7,463.2 1916.3,456.9 1919.0,458.6C1920.7,459.7 1922.3,458.8 1924.0,466.0C1925.0,470.3 1926.0,477.7 1927.0,484.0C1928.0,490.3 1929.0,499.5 1930.0,504.0C1931.2,509.4 1932.4,510.5 1933.6,511.0C1935.1,511.7 1936.5,506.4 1938.0,505.0C1939.7,503.4 1941.3,502.2 1943.0,502.4C1944.7,502.6 1946.3,504.7 1948.0,506.0C1949.7,507.3 1951.3,505.2 1953.0,510.0C1954.3,513.8 1955.7,520.7 1957.0,528.0C1958.3,535.3 1959.7,546.7 1961.0,554.0C1962.3,561.3 1963.7,568.0 1965.0,572.0C1966.0,575.0 1967.0,577.6 1968.0,577.6C1969.3,577.7 1970.7,575.9 1972.0,568.0C1973.3,560.1 1974.7,542.0 1976.0,530.0C1977.0,521.0 1978.0,509.9 1979.0,504.0C1980.2,496.9 1981.4,495.3 1982.6,494.6C1983.7,493.9 1984.9,498.0 1986.0,499.0C1986.9,499.8 1987.7,501.3 1988.6,500.4C1989.7,499.2 1990.9,492.8 1992.0,490.0C1993.7,485.9 1995.3,486.0 1997.0,482.0C1998.3,478.8 1999.7,473.3 2001.0,470.0C2002.3,466.7 2003.7,463.7 2005.0,462.0C2006.5,460.0 2008.1,459.6 2009.6,460.0C2011.1,460.4 2012.5,461.1 2014.0,464.0C2015.3,466.7 2016.7,473.4 2018.0,476.0C2019.3,478.6 2020.7,479.8 2022.0,479.6C2023.3,479.4 2024.7,476.7 2026.0,475.0C2028.0,472.4 2030.0,468.1 2032.0,466.0C2033.9,464.0 2035.7,462.2 2037.6,462.4C2039.4,462.6 2041.2,464.0 2043.0,467.0C2044.3,469.2 2045.7,473.7 2047.0,476.0C2048.7,478.8 2050.3,479.7 2052.0,481.0C2053.3,482.1 2054.7,483.9 2056.0,483.6C2057.3,483.3 2058.7,480.2 2060.0,479.0C2061.5,477.6 2063.1,476.2 2064.6,476.0C2067.1,475.6 2069.5,479.6 2072.0,481.0C2074.0,482.2 2076.0,482.8 2078.0,484.0C2080.0,485.2 2082.0,486.7 2084.0,488.0C2090.7,492.5 2097.3,497.3 2104.0,502.0C2110.7,506.7 2117.3,511.7 2124.0,516.0C2126.7,517.7 2129.3,518.5 2132.0,521.0C2134.0,522.9 2136.0,526.6 2138.0,528.0C2139.3,528.9 2140.7,529.4 2142.0,529.6C2145.0,530.1 2148.0,527.2 2151.0,526.0C2152.7,525.3 2154.3,524.7 2156.0,524.0"/>
<path stroke="#008000" d="M571.0,298.5C572.3,298.5 573.7,298.5 575.0,298.5C583.3,298.5 591.7,298.1 600.0,298.0C606.7,297.9 613.3,297.8 620.0,297.8C626.7,297.8 633.3,297.8 640.0,297.8C646.7,297.8 653.3,297.8 660.0,297.9C665.0,297.9 670.0,298.0 675.0,298.1C679.3,298.2 683.7,298.3 688.0,298.6C692.0,298.8 696.0,299.0 700.0,299.5C703.3,299.9 706.7,300.3 710.0,301.2C713.3,302.1 716.7,303.1 720.0,305.2C723.3,307.2 726.6,310.0 729.9,313.4C733.2,316.8 736.6,321.1 739.9,325.7C743.2,330.3 746.6,335.4 749.9,341.0C753.2,346.7 756.6,353.0 759.9,359.6C763.2,366.3 766.6,373.2 769.9,380.8C773.2,388.4 776.5,396.6 779.8,405.2C783.1,413.9 786.5,423.5 789.8,432.7C791.6,437.7 793.5,442.8 795.3,447.8C796.8,451.9 798.3,456.0 799.8,460.1C803.1,469.4 806.5,479.3 809.8,488.6C813.1,497.9 816.5,507.0 819.8,515.8C823.1,524.6 826.4,533.2 829.7,541.4C833.0,549.6 836.4,557.7 839.7,565.1C843.0,572.5 846.4,579.6 849.7,585.7C851.0,588.1 852.4,590.4 853.7,592.7C855.7,596.0 857.7,599.1 859.7,602.2C863.0,607.3 866.4,612.1 869.7,616.6C873.0,621.0 876.3,625.1 879.6,628.8C882.9,632.5 886.3,636.1 889.6,638.7C892.9,641.3 896.3,643.4 899.6,644.4C901.6,645.0 903.6,645.4 905.6,645.3C908.6,645.3 911.6,644.4 914.6,642.8C916.4,641.8 918.2,640.7 920.0,639.2C923.3,636.3 926.7,631.4 930.0,626.8C933.3,622.2 936.7,617.5 940.0,611.5C943.5,605.4 946.9,598.3 950.4,590.4C953.6,583.0 956.7,574.9 959.9,566.1C963.2,556.9 966.6,545.8 969.9,536.0C973.2,526.4 976.5,516.7 979.8,507.9C983.1,499.0 986.5,489.7 989.8,482.9C993.1,476.1 996.5,472.4 999.8,467.0C1003.6,460.8 1007.3,456.7 1011.1,448.0C1014.0,441.3 1016.9,431.1 1019.8,423.8C1023.1,415.5 1026.4,407.5 1029.7,401.8C1033.0,396.1 1036.4,392.4 1039.7,389.8C1042.0,388.0 1044.4,386.4 1046.7,386.3C1049.4,386.1 1052.0,386.1 1054.7,389.8C1056.4,392.1 1058.0,395.8 1059.7,399.8C1061.4,403.8 1063.0,410.0 1064.7,413.8C1066.4,417.6 1068.0,420.8 1069.7,422.8C1071.2,424.6 1072.7,426.1 1074.2,425.8C1076.0,425.4 1077.8,422.2 1079.6,418.8C1081.3,415.7 1082.9,409.4 1084.6,406.8C1086.1,404.5 1087.6,403.4 1089.1,403.3C1090.9,403.2 1092.8,406.3 1094.6,407.8C1096.3,409.1 1097.9,412.0 1099.6,411.8C1101.3,411.6 1102.9,410.1 1104.6,406.8C1106.3,403.5 1107.9,396.0 1109.6,391.8C1111.3,387.6 1112.9,385.0 1114.6,381.8C1116.4,378.3 1118.2,375.0 1120.0,371.9C1123.3,366.1 1126.7,360.5 1130.0,356.0C1133.3,351.5 1136.7,348.0 1140.0,345.0C1143.3,342.0 1146.7,340.0 1150.0,338.0C1153.3,336.0 1156.7,334.6 1160.0,333.0C1166.7,329.9 1173.3,327.2 1180.0,325.0C1186.7,322.8 1193.3,322.0 1200.0,320.0C1206.7,318.0 1213.3,314.7 1220.0,313.0C1226.7,311.3 1233.3,310.6 1240.0,309.6C1246.7,308.6 1253.3,307.8 1260.0,307.0C1266.7,306.2 1273.3,305.7 1280.0,305.0C1286.7,304.3 1293.3,303.6 1300.0,303.0C1306.7,302.4 1313.3,302.0 1320.0,301.6C1328.7,301.1 1337.3,300.6 1346.0,300.6C1357.3,300.6 1368.7,301.5 1380.0,302.0C1393.7,302.6 1407.3,303.4 1421.0,304.0C1430.7,304.4 1440.3,305.1 1450.0,305.0C1460.0,304.8 1470.0,303.8 1480.0,303.0C1490.0,302.2 1500.0,301.0 1510.0,300.4C1520.0,299.8 1530.0,299.6 1540.0,299.4C1550.0,299.2 1560.0,299.0 1570.0,299.0C1580.0,299.0 1590.0,298.9 1600.0,299.4C1606.7,299.8 1613.3,300.1 1620.0,301.0C1626.7,301.9 1633.3,300.6 1640.0,305.0C1643.3,307.2 1646.7,307.3 1650.0,314.0C1652.0,318.0 1654.0,321.9 1656.0,330.0C1657.3,335.4 1658.7,342.7 1660.0,350.0C1661.3,357.3 1662.7,365.7 1664.0,374.0C1665.3,382.3 1666.7,390.2 1668.0,400.0C1669.0,407.4 1670.0,417.1 1671.0,424.0C1672.3,433.2 1673.7,439.3 1675.0,446.0C1676.3,452.7 1677.7,460.2 1679.0,464.0C1680.0,466.9 1681.0,468.4 1682.0,469.0C1684.0,470.2 1686.0,467.2 1688.0,460.0C1689.3,455.2 1690.7,448.4 1692.0,440.0C1693.0,433.7 1694.0,425.1 1695.0,418.0C1695.7,413.2 1696.3,408.8 1697.0,404.0C1698.0,396.9 1699.0,387.4 1700.0,382.0C1701.3,374.8 1702.7,373.2 1704.0,371.0C1705.3,368.8 1706.7,368.8 1708.0,369.0C1710.0,369.3 1712.0,369.7 1714.0,376.0C1715.3,380.2 1716.7,389.1 1718.0,394.0C1720.3,402.5 1722.7,409.9 1725.0,409.0C1726.7,408.3 1728.3,402.3 1730.0,398.0C1732.0,392.9 1734.0,386.0 1736.0,380.0C1738.0,374.0 1740.0,367.7 1742.0,362.0C1744.0,356.3 1746.0,349.3 1748.0,346.0C1750.0,342.7 1752.0,341.7 1754.0,342.0C1756.0,342.3 1758.0,343.3 1760.0,348.0C1761.3,351.1 1762.7,355.3 1764.0,361.0C1765.0,365.2 1766.0,372.1 1767.0,376.0C1768.7,382.6 1770.3,386.3 1772.0,387.0C1773.3,387.6 1774.7,384.1 1776.0,383.0C1777.7,381.6 1779.3,380.2 1781.0,380.0C1783.3,379.7 1785.7,382.5 1788.0,383.6C1790.0,384.6 1792.0,387.2 1794.0,386.4C1796.0,385.6 1798.0,380.9 1800.0,379.0C1802.7,376.4 1805.3,376.6 1808.0,374.0C1810.7,371.4 1813.3,364.0 1816.0,363.6C1818.0,363.3 1820.0,366.5 1822.0,368.0C1823.7,369.3 1825.3,371.7 1827.0,372.0C1829.3,372.4 1831.7,369.0 1834.0,367.0C1836.7,364.7 1839.3,360.7 1842.0,359.0C1844.0,357.8 1846.0,357.3 1848.0,357.0C1850.0,356.7 1852.0,357.2 1854.0,357.0C1856.0,356.8 1858.0,355.1 1860.0,355.6C1862.0,356.1 1864.0,358.3 1866.0,360.0C1868.0,361.7 1870.0,366.3 1872.0,366.0C1874.0,365.7 1876.0,360.6 1878.0,358.0C1879.7,355.8 1881.3,352.6 1883.0,351.6C1885.0,350.4 1887.0,354.8 1889.0,353.0C1890.7,351.5 1892.3,347.3 1894.0,344.0C1895.7,340.7 1897.3,335.2 1899.0,333.0C1900.7,330.8 1902.3,330.9 1904.0,330.6C1906.7,330.1 1909.3,333.2 1912.0,333.0C1914.3,332.9 1916.7,328.7 1919.0,330.4C1920.7,331.6 1922.3,330.8 1924.0,338.0C1925.0,342.3 1926.0,349.0 1927.0,356.0C1928.0,363.0 1929.0,374.5 1930.0,380.0C1931.0,385.5 1932.0,387.4 1933.0,389.0C1934.7,391.6 1936.3,386.1 1938.0,385.0C1939.7,383.9 1941.3,382.4 1943.0,382.6C1944.7,382.8 1946.3,384.4 1948.0,386.0C1949.7,387.6 1951.3,386.9 1953.0,392.0C1954.3,396.0 1955.7,402.6 1957.0,410.0C1958.0,415.5 1959.0,422.0 1960.0,429.0C1960.7,433.7 1961.3,439.6 1962.0,444.0C1963.0,450.6 1964.0,456.0 1965.0,460.0C1966.0,464.0 1967.0,468.0 1968.0,468.0C1969.0,468.0 1970.0,464.7 1971.0,460.0C1972.0,455.3 1973.0,448.3 1974.0,440.0C1975.0,431.7 1976.0,419.3 1977.0,410.0C1978.0,400.7 1979.0,389.3 1980.0,384.0C1980.9,379.4 1981.7,378.5 1982.6,378.0C1983.7,377.4 1984.9,382.1 1986.0,384.0C1986.9,385.4 1987.7,388.6 1988.6,388.0C1989.7,387.3 1990.9,379.5 1992.0,376.0C1993.3,371.9 1994.7,370.0 1996.0,366.0C1997.3,362.0 1998.7,356.3 2000.0,352.0C2001.3,347.7 2002.7,342.7 2004.0,340.0C2005.7,336.6 2007.3,336.0 2009.0,336.0C2010.7,336.0 2012.3,336.2 2014.0,340.0C2015.3,343.1 2016.7,351.0 2018.0,354.0C2019.3,357.0 2020.7,358.3 2022.0,358.0C2023.3,357.7 2024.7,354.1 2026.0,352.0C2028.0,348.9 2030.0,344.4 2032.0,342.0C2034.0,339.6 2036.0,337.3 2038.0,337.6C2039.7,337.8 2041.3,339.0 2043.0,342.0C2044.3,344.4 2045.7,349.4 2047.0,352.0C2048.7,355.2 2050.3,356.6 2052.0,358.0C2053.3,359.1 2054.7,360.3 2056.0,360.0C2057.3,359.7 2058.7,357.3 2060.0,356.0C2061.3,354.7 2062.7,353.0 2064.0,352.4C2066.7,351.2 2069.3,355.0 2072.0,356.0C2074.0,356.8 2076.0,357.0 2078.0,358.0C2080.0,359.0 2082.0,360.7 2084.0,362.0C2090.7,366.5 2097.3,371.3 2104.0,376.0C2110.7,380.7 2117.3,385.7 2124.0,390.0C2126.7,391.7 2129.3,392.8 2132.0,395.0C2134.0,396.7 2136.0,399.9 2138.0,401.0C2140.0,402.1 2142.0,401.6 2144.0,401.4C2146.3,401.1 2148.7,399.8 2151.0,399.0C2152.7,398.4 2154.3,397.9 2156.0,397.3"/>
<path stroke="#000080" d="M571.0,172.0C572.3,172.0 573.7,172.0 575.0,172.0C583.3,172.0 591.7,171.6 600.0,171.5C606.7,171.4 613.3,171.3 620.0,171.3C626.7,171.3 633.3,171.3 640.0,171.3C646.7,171.3 653.3,171.3 660.0,171.4C665.0,171.4 670.0,171.4 675.0,171.6C679.3,171.8 683.7,172.1 688.0,172.5C692.0,172.9 696.0,173.4 700.0,174.0C703.3,174.5 706.7,174.7 710.0,175.5C713.3,176.3 716.7,177.2 720.0,178.9C723.3,180.6 726.7,182.5 730.0,185.6C733.3,188.7 736.7,192.6 740.0,197.3C743.3,202.0 746.7,207.5 750.0,213.5C753.3,219.6 756.7,226.7 760.0,233.6C763.3,240.5 766.7,247.3 770.0,254.9C773.3,262.5 776.7,270.6 780.0,279.3C782.9,287.0 785.9,295.3 788.8,303.7C792.5,314.3 796.1,326.2 799.8,336.8C803.1,346.4 806.5,355.7 809.8,364.7C813.1,373.7 816.5,382.1 819.8,390.9C823.1,399.7 826.4,408.7 829.7,417.4C833.5,427.5 837.4,437.8 841.2,447.1C844.0,453.9 846.9,460.5 849.7,466.4C853.0,473.3 856.4,479.2 859.7,484.8C863.0,490.5 866.4,496.1 869.7,500.3C873.0,504.5 876.3,507.8 879.6,510.1C882.9,512.4 886.3,513.2 889.6,513.9C891.6,514.4 893.6,514.4 895.6,514.7C898.6,515.1 901.6,516.0 904.6,515.8C907.9,515.6 911.3,515.0 914.6,513.0C916.4,511.9 918.2,510.3 920.0,508.7C923.3,505.8 926.6,502.2 929.9,498.1C933.2,493.9 936.6,489.2 939.9,483.7C943.2,478.2 946.6,472.3 949.9,465.0C952.3,459.7 954.8,453.5 957.2,447.3C961.4,436.5 965.7,423.9 969.9,412.0C973.2,402.7 976.5,392.8 979.8,383.8C983.1,374.7 986.5,365.8 989.8,357.9C993.1,350.0 996.5,343.2 999.8,336.5C1002.7,330.7 1005.5,326.4 1008.4,320.0C1010.6,315.1 1012.8,308.7 1015.0,303.5C1017.4,297.8 1019.9,292.3 1022.3,287.6C1024.8,282.8 1027.3,278.8 1029.8,275.0C1032.3,271.2 1034.8,267.7 1037.3,265.0C1039.8,262.3 1042.3,260.0 1044.8,258.8C1046.1,258.2 1047.5,257.5 1048.8,257.7C1050.8,258.0 1052.8,259.3 1054.8,262.5C1056.5,265.2 1058.1,269.8 1059.8,274.0C1061.4,278.1 1063.1,283.6 1064.7,287.2C1066.3,290.7 1067.9,293.3 1069.5,295.5C1071.7,298.5 1073.8,301.7 1076.0,301.6C1078.0,301.5 1080.0,297.9 1082.0,296.0C1084.0,294.1 1086.0,290.4 1088.0,290.4C1090.0,290.4 1092.0,294.2 1094.0,296.0C1096.0,297.8 1098.0,301.2 1100.0,301.0C1101.3,300.8 1102.7,300.0 1104.0,298.0C1106.0,295.0 1108.0,287.1 1110.0,282.0C1113.3,273.4 1116.7,264.7 1120.0,258.0C1123.3,251.3 1126.7,246.7 1130.0,242.0C1133.3,237.3 1136.7,233.5 1140.0,230.0C1143.3,226.5 1146.7,223.3 1150.0,221.0C1153.3,218.7 1156.7,217.6 1160.0,216.0C1166.7,212.8 1173.3,209.5 1180.0,207.0C1186.7,204.5 1193.3,203.5 1200.0,201.0C1206.7,198.5 1213.3,194.2 1220.0,192.0C1226.7,189.8 1233.3,189.2 1240.0,188.0C1246.7,186.8 1253.3,186.0 1260.0,185.0C1266.7,184.0 1273.3,183.0 1280.0,182.0C1286.7,181.0 1293.3,179.8 1300.0,179.0C1306.7,178.2 1313.3,177.5 1320.0,177.0C1330.0,176.2 1340.0,175.7 1350.0,175.6C1360.0,175.5 1370.0,176.2 1380.0,176.6C1393.7,177.1 1407.3,178.0 1421.0,178.4C1430.7,178.7 1440.3,179.2 1450.0,179.0C1460.0,178.8 1470.0,178.1 1480.0,177.4C1490.0,176.7 1500.0,175.3 1510.0,174.6C1520.0,173.9 1530.0,173.7 1540.0,173.4C1550.0,173.1 1560.0,173.0 1570.0,173.0C1580.0,173.0 1590.0,173.0 1600.0,173.6C1606.7,174.0 1613.3,174.3 1620.0,175.4C1623.3,176.0 1626.7,176.6 1630.0,177.5C1633.3,178.4 1636.7,179.6 1640.0,181.0C1643.3,182.4 1646.7,183.2 1650.0,186.0C1653.3,188.8 1656.7,191.6 1660.0,198.0C1662.7,203.1 1665.3,211.1 1668.0,218.0C1670.0,223.2 1672.0,230.1 1674.0,234.0C1676.3,238.5 1678.7,241.6 1681.0,241.6C1683.3,241.6 1685.7,237.7 1688.0,234.0C1690.0,230.8 1692.0,224.8 1694.0,222.0C1696.0,219.2 1698.0,218.1 1700.0,217.0C1703.3,215.2 1706.7,216.7 1710.0,216.4C1713.3,216.1 1716.7,216.7 1720.0,215.0C1723.3,213.3 1726.7,208.8 1730.0,206.0C1733.3,203.2 1736.7,199.5 1740.0,198.0C1742.3,197.0 1744.7,196.5 1747.0,196.6C1750.0,196.8 1753.0,195.9 1756.0,200.0C1758.0,202.7 1760.0,207.0 1762.0,212.0C1764.0,217.0 1766.0,226.4 1768.0,230.0C1770.7,234.8 1773.3,229.7 1776.0,231.6C1778.0,233.0 1780.0,236.1 1782.0,238.0C1784.0,239.9 1786.0,242.7 1788.0,243.0C1789.7,243.3 1791.3,242.3 1793.0,241.0C1794.7,239.7 1796.3,235.9 1798.0,235.0C1799.7,234.1 1801.3,234.9 1803.0,235.6C1804.7,236.3 1806.3,239.7 1808.0,239.0C1809.3,238.5 1810.7,235.5 1812.0,234.0C1813.7,232.1 1815.3,230.0 1817.0,229.0C1819.3,227.6 1821.7,228.5 1824.0,229.0C1826.7,229.5 1829.3,232.5 1832.0,232.4C1834.0,232.3 1836.0,231.3 1838.0,230.0C1840.7,228.2 1843.3,224.7 1846.0,222.0C1848.7,219.3 1851.3,215.5 1854.0,214.0C1857.3,212.1 1860.7,213.5 1864.0,213.6C1867.0,213.7 1870.0,214.6 1873.0,214.4C1876.0,214.2 1879.0,212.9 1882.0,212.4C1885.0,211.9 1888.0,214.6 1891.0,211.6C1892.7,209.9 1894.3,206.1 1896.0,204.0C1898.0,201.5 1900.0,198.5 1902.0,198.4C1903.7,198.3 1905.3,198.7 1907.0,202.0C1908.3,204.6 1909.7,210.8 1911.0,214.0C1912.0,216.4 1913.0,219.5 1914.0,220.0C1915.3,220.7 1916.7,215.4 1918.0,214.0C1919.0,213.0 1920.0,211.3 1921.0,212.0C1922.0,212.7 1923.0,214.0 1924.0,218.0C1925.0,222.0 1926.0,229.0 1927.0,236.0C1928.0,243.0 1929.0,253.8 1930.0,260.0C1931.0,266.2 1932.0,269.4 1933.0,273.0C1935.3,281.4 1937.7,282.7 1940.0,286.0C1942.0,288.8 1944.0,289.3 1946.0,292.0C1948.0,294.7 1950.0,297.9 1952.0,302.0C1953.7,305.4 1955.3,307.1 1957.0,314.0C1958.3,319.5 1959.7,328.0 1961.0,336.0C1962.3,344.0 1963.7,355.3 1965.0,362.0C1966.5,369.7 1968.1,378.2 1969.6,377.0C1970.7,376.1 1971.9,372.9 1973.0,364.0C1974.0,356.2 1975.0,340.0 1976.0,330.0C1977.0,320.0 1978.0,310.1 1979.0,304.0C1980.2,296.7 1981.4,293.9 1982.6,293.0C1983.7,292.2 1984.9,296.2 1986.0,298.0C1987.0,299.6 1988.0,304.0 1989.0,303.0C1990.0,302.0 1991.0,296.5 1992.0,292.0C1993.3,286.1 1994.7,277.3 1996.0,270.0C1997.3,262.7 1998.7,254.0 2000.0,248.0C2001.3,242.0 2002.7,237.5 2004.0,234.0C2005.3,230.5 2006.7,228.4 2008.0,227.0C2009.5,225.4 2010.9,224.4 2012.4,225.6C2013.6,226.6 2014.8,229.7 2016.0,232.0C2017.7,235.3 2019.3,242.3 2021.0,243.0C2022.7,243.7 2024.3,238.3 2026.0,236.0C2028.7,232.3 2031.3,227.9 2034.0,225.0C2036.0,222.8 2038.0,219.0 2040.0,219.6C2041.3,220.0 2042.7,221.3 2044.0,224.0C2045.0,226.0 2046.0,230.0 2047.0,232.0C2048.7,235.4 2050.3,235.8 2052.0,237.0C2053.3,238.0 2054.7,239.3 2056.0,239.0C2057.3,238.7 2058.7,236.2 2060.0,235.0C2061.3,233.8 2062.7,232.2 2064.0,231.6C2066.7,230.4 2069.3,233.0 2072.0,234.0C2074.0,234.7 2076.0,235.6 2078.0,236.4C2080.0,237.2 2082.0,238.0 2084.0,239.0C2090.7,242.2 2097.3,248.0 2104.0,252.0C2110.7,256.0 2117.3,260.4 2124.0,263.0C2126.0,263.8 2128.0,263.7 2130.0,265.0C2132.0,266.3 2134.0,269.1 2136.0,271.0C2137.7,272.6 2139.3,275.1 2141.0,275.6C2142.7,276.1 2144.3,274.6 2146.0,274.0C2147.7,273.4 2149.3,272.7 2151.0,272.0C2152.7,271.3 2154.3,270.7 2156.0,270.0"/>
</g>
<g font-size="50px" text-anchor="middle" letter-spacing="0.8" fill="#000">
<text x="575.3" y="1299.5">4000</text>
<text x="810.3" y="1299.5">3500</text>
<text x="1045.3" y="1299.5">3000</text>
<text x="1280.3" y="1299.5">2500</text>
<text x="1515.3" y="1299.5">2000</text>
<text x="1750.3" y="1299.5">1500</text>
<text x="1985.3" y="1299.5">1000</text>
</g>
<text x="1069.5" y="1400" font-size="62.75px" fill="#000">Wavenumber (cm<tspan font-size="42.4px" dy="-26.3">-1</tspan><tspan dy="26.3">)</tspan></text>
<text transform="translate(513,899) rotate(-90)" font-size="62.4px" fill="#000">Transmittance (a.u.)</text>
<text x="42.6" y="144" font-size="91.3px" font-weight="bold" fill="#000">C</text>
<rect x="1176.5" y="895.5" width="360.5" height="296" fill="#ffffff" stroke="#000" stroke-width="3" shape-rendering="crispEdges"/>
<line x1="1193" y1="922.1" x2="1283.5" y2="922.1" stroke="#000080" stroke-width="6" stroke-linecap="round"/>
<text x="1291.5" y="934.8" font-size="40.5px" fill="#000080">HHP 100C:0G</text>
<line x1="1193" y1="971.5" x2="1283.5" y2="971.5" stroke="#008000" stroke-width="6" stroke-linecap="round"/>
<text x="1291.5" y="984.3" font-size="40.5px" fill="#008000">HHP 80C:20G</text>
<line x1="1193" y1="1020.9" x2="1283.5" y2="1020.9" stroke="#ff00ff" stroke-width="6" stroke-linecap="round"/>
<text x="1291.5" y="1033.8" font-size="40.5px" fill="#ff00ff">HHP 60C:40G</text>
<line x1="1193" y1="1070.2" x2="1283.5" y2="1070.2" stroke="#0000ff" stroke-width="6" stroke-linecap="round"/>
<text x="1291.5" y="1083.3" font-size="40.5px" fill="#0000ff">HHP 40C:60G</text>
<line x1="1193" y1="1119.6" x2="1283.5" y2="1119.6" stroke="#ff0000" stroke-width="6" stroke-linecap="round"/>
<text x="1291.5" y="1132.8" font-size="40.5px" fill="#ff0000">HHP 20C:80G</text>
<line x1="1193" y1="1169.0" x2="1283.5" y2="1169.0" stroke="#000000" stroke-width="6" stroke-linecap="round"/>
<text x="1291.5" y="1182.3" font-size="40.5px" fill="#000000">HHP 0C:100G</text>
</svg>
</body>
</html>
